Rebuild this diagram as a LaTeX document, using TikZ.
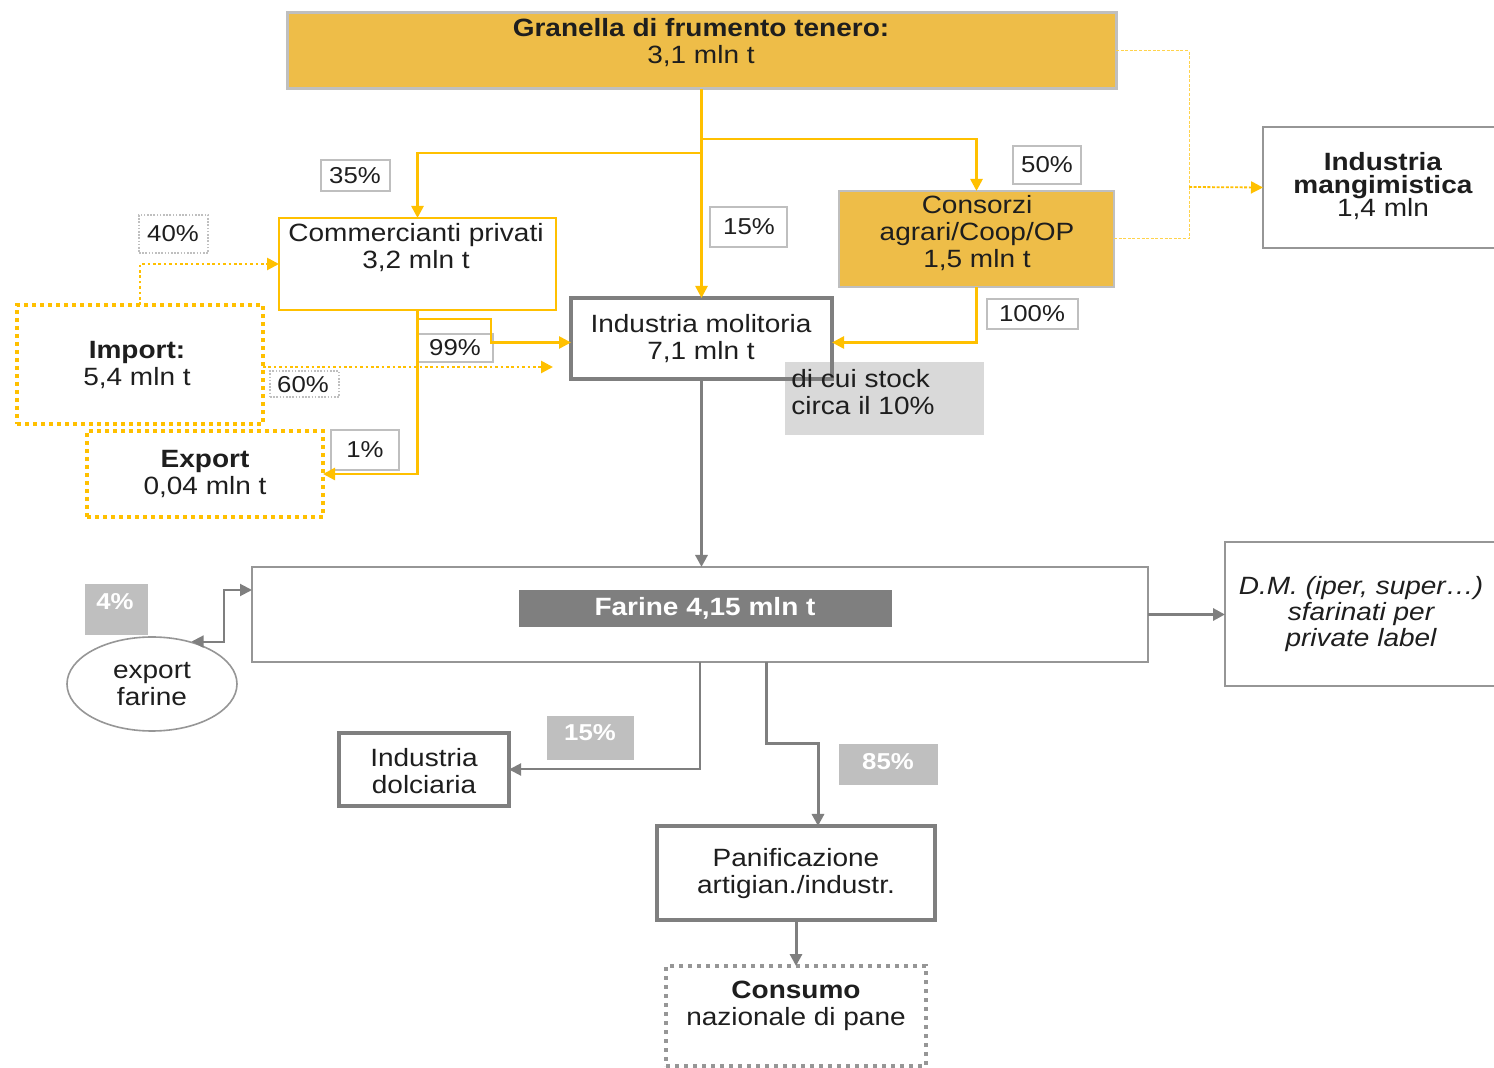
\documentclass[tikz,border=0pt]{standalone}
\usepackage{fontspec}
\setmainfont{Liberation Sans}[FakeStretch=1.12]
\usetikzlibrary{arrows.meta,fit,shapes.geometric}
\definecolor{gold}{RGB}{238,189,72}
\definecolor{yel}{RGB}{255,192,0}
\definecolor{dgray}{RGB}{127,127,127}
\definecolor{mgray}{RGB}{150,150,150}
\definecolor{lgray}{RGB}{191,191,191}
\definecolor{sgray}{RGB}{217,217,217}
\definecolor{ink}{RGB}{30,30,30}
\begin{document}
\begin{tikzpicture}[x=0.5pt,y=-0.5pt,
  box/.style={inner sep=0pt, outer sep=0pt},
  goldbox/.style={box, fill=gold, draw=lgray, line width=1.5pt},
  ybox/.style={box, draw=yel, line width=1pt, fill=white},
  ydotbox/.style={box, draw=yel, line width=2pt, dash pattern=on 2pt off 2pt},
  gbox/.style={box, draw=dgray, line width=2pt},
  gthin/.style={box, draw=mgray, line width=1pt, fill=white},
  txt/.style={text=ink, align=center, font=\fontsize{12.5}{13.5}\selectfont, inner sep=0pt},
  pct/.style={box, draw=lgray, line width=0.8pt, fill=white},
  pctdot/.style={box, draw=lgray, line width=0.7pt, dash pattern=on 0.8pt off 0.8pt},
  pctfill/.style={box, fill=lgray},
  ptxt/.style={txt, font=\fontsize{11.5}{13}\selectfont},
  pwtxt/.style={txt, text=white, font=\bfseries\fontsize{11.5}{13}\selectfont},
  tip/.style={-{Triangle[length=6pt,width=6pt]}},
  yline/.style={draw=yel, line width=1.3pt, tip, color=yel},
  ydot/.style={draw=yel, line width=1.3pt, dash pattern=on 1.3pt off 1.4pt, tip, color=yel},
  ythin/.style={draw=yel!70, line width=0.5pt, dash pattern=on 1.5pt off 0.8pt},
  gline/.style={draw=dgray, line width=1pt, tip, color=dgray},
  gthick/.style={draw=dgray, line width=1.5pt, tip, color=dgray}
]
\path[use as bounding box, fill=white] (0,0) rectangle (1494,1068);

% ---------- boxes ----------
\node[goldbox, fit={(287,13)(1116,89)}] (gran) {};
\node[txt] (granT) at (701,43) {\textbf{Granella di frumento tenero:}\\3,1 mln t};

\node[ybox, fit={(279,218)(556,310)}] (comm) {};
\node[txt] (commT) at (416,248) {Commercianti privati\\3,2 mln t};

\node[goldbox, line width=1pt, fit={(839,191)(1114,287)}] (cons) {};
\node[txt] (consT) at (977,233) {Consorzi\\agrari/Coop/OP\\1,5 mln t};

\node[box, fill=sgray, fit={(785,362)(984,435)}] (stock) {};
\node[gbox, fit={(571,298)(832,379)}] (mol) {};
\node[txt] (molT) at (701,339) {Industria molitoria\\7,1 mln t};
\node[txt, anchor=west, align=left] (stockT) at (791,392) {di cui stock\\circa il 10\%};

\node[ydotbox, fit={(17,305)(263,424)}] (imp) {};
\node[txt] (impT) at (137,365) {\textbf{Import:}\\5,4 mln t};
\node[ydotbox, fit={(87,431)(323,517)}] (exp) {};
\node[txt] (expT) at (205,474) {\textbf{Export}\\0,04 mln t};

\node[gthin, fit={(1263,127)(1502,248)}] (mang) {};
\node[txt] (mangT) at (1383,186) {\textbf{Industria}\\[-2.3pt]\textbf{mangimistica}\\[-2pt]1,4 mln};

\node[gthin, fit={(252,567)(1148,662)}] (far) {};
\node[box, fill=dgray, fit={(519,590)(892,627)}] (fbar) {};
\node[txt, text=white, font=\bfseries\fontsize{12.5}{13.5}\selectfont] (farT) at (705,608) {Farine 4,15 mln t};

\node[gthin, fit={(1225,542)(1502,686)}] (dm) {};
\node[txt, font=\itshape\fontsize{12.5}{13.2}\selectfont] (dmT) at (1361,614) {D.M. (iper, super…)\\sfarinati per\\private label};

\node[ellipse, draw=mgray, line width=0.8pt, fill=white, minimum width=85pt, minimum height=47pt, inner sep=0pt,
      txt] (expf) at (152,684) {export\\farine};

\node[gbox, fit={(339,733)(509,806)}] (dolc) {};
\node[txt] (dolcT) at (424,771) {Industria\\dolciaria};

\node[gbox, fit={(657,826)(935,920)}] (pan) {};
\node[txt] (panT) at (796,874) {Panificazione\\artigian./industr.};

\node[box, draw=mgray, line width=2pt, dash pattern=on 2pt off 2.5pt, fit={(666,966)(926,1066)}] (cns) {};
\node[txt] (cnsT) at (796,1006) {\textbf{Consumo}\\nazionale di pane};

% ---------- percentage labels ----------
\node[pct, fit={(321,160)(390,191)}] (p35) {};
\node[ptxt] (p35T) at (355,176) {35\%};
\node[pct, fit={(710,207)(787,247)}] (p15a) {};
\node[ptxt] (p15aT) at (749,227) {15\%};
\node[pct, fit={(1013,146)(1081,184)}] (p50) {};
\node[ptxt] (p50T) at (1047,165) {50\%};
\node[pctdot, fit={(139,215)(208,253)}] (p40) {};
\node[ptxt] (p40T) at (173,234) {40\%};
\node[pct, fit={(417,334)(493,362)}] (p99) {};
\node[ptxt] (p99T) at (455,348) {99\%};
\node[pctdot, fit={(270,371)(339,397)}] (p60) {};
\node[ptxt] (p60T) at (303,385) {60\%};
\node[pct, fit={(331,430)(399,470)}] (p1) {};
\node[ptxt] (p1T) at (365,450) {1\%};
\node[pct, fit={(987,299)(1078,329)}] (p100) {};
\node[ptxt] (p100T) at (1032,314) {100\%};
\node[pctfill, fit={(85,584)(148,635)}] (p4) {};
\node[pwtxt] (p4T) at (115,602) {4\%};
\node[pctfill, fit={(547,716)(634,760)}] (p15b) {};
\node[pwtxt] (p15bT) at (590,733) {15\%};
\node[pctfill, fit={(839,744)(938,785)}] (p85) {};
\node[pwtxt] (p85T) at (888,762) {85\%};

% ---------- helper coordinates ----------
\coordinate (j1) at (701,153);
\coordinate (j2) at (701,139);
\coordinate (c99) at (491,319);
\coordinate (i60) at (553,367);
\coordinate (mj) at (1189,187);
\coordinate (e4) at (224,641);
\coordinate (fp1) at (766,744);
\coordinate (fp2) at (818,744);

% ---------- yellow connectors ----------
\draw[yline] (gran.south) -- (mol.north);
\draw[yline] (j1) -| (comm.north);
\draw[yline] (j2) -| (cons.north);
\draw[yline] (cons.south) |- ([yshift=-2pt]mol.east);
\draw[yline] (comm.south) |- (c99) |- ([yshift=-2pt]mol.west);
\draw[yline] (comm.south) |- (exp.east);
\draw[ydot] (imp.north) |- (comm.west);
\draw[ydot] (imp.east |- i60) -- (i60);
\draw[ythin] (gran.east) -| (mj);
\draw[ythin] (cons.east) -| (mj);
\draw[ythin, line width=0.9pt, -{Triangle[length=6pt,width=6pt]}, color=yel] (mj) -- (mang.west);

% ---------- gray connectors ----------
\draw[gthick] (mol.south) -- (mol.south |- far.north);
\draw[gthick] (far.east) -- (far.east -| dm.west);
\draw[draw=dgray, line width=1pt, color=dgray, {Triangle[length=6pt,width=6pt]}-{Triangle[length=6pt,width=6pt]}]
  (expf.47) -- (expf.47 -| e4) |- ([yshift=12.25pt]far.west);
\draw[gline] (far.south) |- (dolc.east);
\draw[gthick] (far.south -| fp1) -- (fp1) -- (fp2) -- (pan.north -| fp2);
\draw[gthick] (pan.south) -- (pan.south |- cns.north);
\end{tikzpicture}
\end{document}
